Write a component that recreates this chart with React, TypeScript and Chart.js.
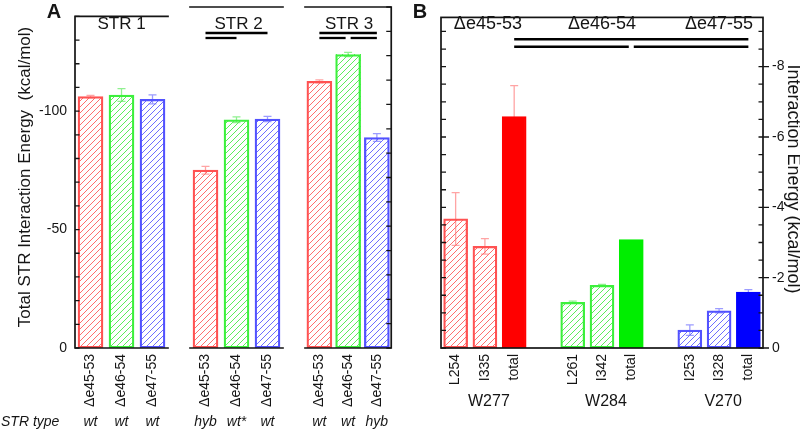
import React, { useEffect, useRef } from 'react';
import { Chart, registerables } from 'chart.js';

Chart.register(...registerables);

const FONT = '"Liberation Sans", Arial, Helvetica, sans-serif';
const INK = '#151515';
const W = 800;
const H = 430;
const B_LEFT = 400;

// ---------- Panel A data (total STR interaction energy, kcal/mol) ----------
const strNames = ['STR 1', 'STR 2', 'STR 3'];
const deletionLabels = ['Δe45-53', 'Δe46-54', 'Δe47-55'];
const str1Energy = [-106.1, -106.8, -105.0];
const str1Error = [0.5, 2.7, 1.9];
const str1Type = ['wt', 'wt', 'wt'];
const str2Energy = [-73.0, -93.7, -94.0];
const str2Error = [1.6, 1.2, 1.1];
const str2Type = ['hyb', 'wt*', 'wt'];
const str3Energy = [-109.5, -120.5, -86.4];
const str3Error = [0.6, 0.9, 1.6];
const str3Type = ['wt', 'wt', 'hyb'];
const totalTickLabels = [0, -50, -100];
// bar-index links drawn under the STR headers (row 1, row 2)
const strLinks = [
  [],
  [[[0, 2]], [[0, 1]]],
  [[[0, 2]], [[0, 1], [1, 2]]],
];

// ---------- Panel B data (residue interaction energy, kcal/mol) ----------
const deletionHeaders = ['Δe45-53', 'Δe46-54', 'Δe47-55'];
const residueGroups = ['W277', 'W284', 'V270'];
const w277Residues = ['L254', 'I335', 'total'];
const w277Energy = [-3.67, -2.89, -6.58];
const w277Error = [0.75, 0.22, 0.88];
const w284Residues = ['L261', 'I342', 'total'];
const w284Energy = [-1.3, -1.78, -3.08];
const w284Error = [0.03, 0.03, 0];
const v270Residues = ['I253', 'I328', 'total'];
const v270Energy = [-0.51, -1.06, -1.59];
const v270Error = [0.15, 0.06, 0.07];
const energyTickLabels = [0, -2, -4, -6, -8];
// links between group totals (row 1, row 2)
const deletionLinks = [[[0, 2]], [[0, 1], [1, 2]]];

// ---------- styles ----------
const HUES = ['red', 'green', 'blue'];
const EDGE: Record<string, string> = { red: 'rgb(255,82,82)', green: 'rgb(60,240,60)', blue: 'rgb(82,82,255)' };
const HATCH: Record<string, string> = { red: 'rgb(255,110,110)', green: 'rgb(90,238,90)', blue: 'rgb(110,110,255)' };
const SOLID: Record<string, string> = { red: 'rgb(255,0,0)', green: 'rgb(0,238,0)', blue: 'rgb(0,0,255)' };
const ERR: Record<string, string> = { red: 'rgba(255,90,90,0.55)', green: 'rgba(70,230,70,0.6)', blue: 'rgba(90,90,255,0.6)' };
const CLEAR = 'rgba(0,0,0,0)';

function font(size: number, style = '') {
  return `${style} ${size}px ${FONT}`.trim();
}

function stepValues(min: number, max: number, step: number) {
  const out: number[] = [];
  const n = Math.floor((max - min) / step + 1e-9);
  for (let k = 0; k <= n; k++) out.push(max - k * step);
  return out;
}

function drawHatches(chart: any, hatched: boolean[], colors: string[]) {
  const meta = chart.getDatasetMeta(0);
  const ctx = chart.ctx;
  meta.data.forEach((bar: any, i: number) => {
    if (!hatched[i]) return;
    const x = bar.x;
    const y = bar.y;
    const base = bar.base;
    const width = bar.width;
    if (!isFinite(y) || !isFinite(base)) return;
    const left = Math.round(x - width / 2);
    const right = Math.round(x + width / 2);
    const top = Math.round(Math.min(y, base));
    const bottom = Math.round(Math.max(y, base));
    ctx.save();
    ctx.globalAlpha = 1;
    ctx.globalCompositeOperation = 'source-over';
    ctx.fillStyle = colors[i];
    for (let py = top; py < bottom; py++) {
      for (let px = left; px < right; px++) {
        if ((px + py) % 6 === 0) ctx.fillRect(px, py, 1, 1);
      }
    }
    ctx.restore();
  });
}

function drawErrorBars(chart: any, errors: number[], colors: string[]) {
  const meta = chart.getDatasetMeta(0);
  const ys = chart.scales.y;
  const ctx = chart.ctx;
  const data = chart.data.datasets[0].data;
  meta.data.forEach((bar: any, i: number) => {
    const v = data[i];
    const e = errors[i];
    if (v == null || !e) return;
    const x = bar.x;
    const y1 = ys.getPixelForValue(v - e);
    const y2 = ys.getPixelForValue(v + e);
    ctx.save();
    ctx.strokeStyle = colors[i];
    ctx.lineWidth = 1.3;
    ctx.beginPath();
    ctx.moveTo(x, y1);
    ctx.lineTo(x, y2);
    ctx.moveTo(x - 4, y1);
    ctx.lineTo(x + 4, y1);
    ctx.moveTo(x - 4, y2);
    ctx.lineTo(x + 4, y2);
    ctx.stroke();
    ctx.restore();
  });
}

function drawLinks(ctx: any, rows: number[][][], px: (i: number) => number, y0: number, dy: number, lw: number) {
  ctx.save();
  ctx.strokeStyle = '#000';
  ctx.lineWidth = lw;
  rows.forEach((row, r) => {
    const y = y0 + r * dy;
    row.forEach(([a, b]) => {
      let x1 = px(a);
      let x2 = px(b);
      if (row.some(([, e]) => e === a)) x1 += 2.5;
      if (row.some(([s]) => s === b)) x2 -= 2.5;
      ctx.beginPath();
      ctx.moveTo(x1, y);
      ctx.lineTo(x2, y);
      ctx.stroke();
    });
  });
  ctx.restore();
}

const A_STEP = 10;
const B_STEP = 0.5;

function strChart(canvas: HTMLCanvasElement, k: number, energy: number[], error: number[], types: string[]) {
  const padLeft = [0, 190, 305][k];
  const padRight = [232, 117, 2][k];
  const hatchColors = HUES.map((h) => HATCH[h]);
  const errColors = HUES.map((h) => ERR[h]);
  const plugin = {
    id: 'strDeco' + k,
    beforeDatasetsDraw(chart: any) {
      drawErrorBars(chart, error, errColors);
      drawHatches(chart, [true, true, true], hatchColors);
    },
    afterDraw(chart: any) {
      const { ctx, chartArea: a } = chart;
      const xs = chart.scales.x;
      const ys = chart.scales.y;
      ctx.save();
      ctx.strokeStyle = INK;
      ctx.lineWidth = 1.7;
      ctx.lineCap = 'square';
      ctx.beginPath();
      if (k === 0) {
        ctx.moveTo(a.right, a.top);
        ctx.lineTo(a.left, a.top);
        ctx.lineTo(a.left, a.bottom);
        ctx.lineTo(a.right, a.bottom);
      } else if (k === 2) {
        ctx.moveTo(a.left, a.top);
        ctx.lineTo(a.right, a.top);
        ctx.lineTo(a.right, a.bottom);
        ctx.lineTo(a.left, a.bottom);
      } else {
        ctx.moveTo(a.left, a.top);
        ctx.lineTo(a.right, a.top);
        ctx.moveTo(a.left, a.bottom);
        ctx.lineTo(a.right, a.bottom);
      }
      ctx.stroke();
      ctx.lineCap = 'butt';
      ctx.lineWidth = 1.3;
      ctx.beginPath();
      stepValues(ys.min, ys.max, A_STEP).forEach((v) => {
        const y = ys.getPixelForValue(v);
        if (k === 0) {
          ctx.moveTo(a.left, y);
          ctx.lineTo(a.left + 4.5, y);
        }
        if (k === 2) {
          ctx.moveTo(a.right - 5, y);
          ctx.lineTo(a.right, y);
        }
      });
      ctx.stroke();

      ctx.fillStyle = INK;
      ctx.textAlign = 'center';
      ctx.textBaseline = 'middle';
      ctx.font = font(17);
      ctx.fillText(strNames[k], xs.getPixelForValue(1) + (k === 1 ? 2 : k === 2 ? 1 : 0), 24);
      drawLinks(ctx, strLinks[k] as number[][][], (i) => xs.getPixelForValue(i), 33, 5, 2.3);

      ctx.fillStyle = INK;
      ctx.textAlign = 'center';
      ctx.textBaseline = 'middle';
      ctx.font = font(14, 'italic');
      types.forEach((t, i) => ctx.fillText(t, xs.getPixelForValue(i), 422));

      if (k === 0) {
        ctx.textAlign = 'left';
        ctx.fillText('STR type', 1, 422);
        ctx.font = `bold 20px ${FONT}`;
        ctx.textAlign = 'center';
        ctx.fillText('A', 54, 12);
        ctx.save();
        ctx.translate(29.5, 177);
        ctx.rotate(-Math.PI / 2);
        ctx.font = font(17);
        ctx.textBaseline = 'alphabetic';
        ctx.fillText('Total STR Interaction Energy  (kcal/mol)', 0, 0);
        ctx.restore();
      }
      ctx.restore();
    },
  };
  return new Chart(canvas, {
    type: 'bar',
    data: {
      labels: deletionLabels,
      datasets: [
        {
          data: energy,
          backgroundColor: CLEAR,
          borderColor: HUES.map((h) => EDGE[h]),
          borderWidth: 1.6,
          borderSkipped: false,
          barThickness: 25,
        },
      ],
    },
    options: {
      responsive: false,
      animation: false,
      events: [],
      layout: { padding: { left: padLeft, right: padRight, top: 7, bottom: 0 } },
      plugins: { legend: { display: false }, tooltip: { enabled: false } },
      scales: {
        x: {
          type: 'category',
          grid: { display: false, drawTicks: false },
          border: { display: false },
          ticks: {
            minRotation: 90,
            maxRotation: 90,
            autoSkip: false,
            padding: 6,
            color: INK,
            font: { family: FONT, size: 14 },
          },
          afterFit: (s: any) => {
            s.height = 82;
          },
        },
        y: {
          type: 'linear',
          display: k === 0,
          min: -140,
          max: 0,
          reverse: true,
          grid: { display: false, drawTicks: false },
          border: { display: false },
          ticks: {
            stepSize: A_STEP,
            padding: 8,
            color: INK,
            font: { family: FONT, size: 14 },
            callback: (v: any) => (totalTickLabels.includes(Number(v)) ? String(v) : null),
          },
          afterFit: (s: any) => {
            s.width = k === 0 ? 75 : 0;
          },
        },
      },
    } as any,
    plugins: [plugin],
  });
}

function residueChart(canvas: HTMLCanvasElement) {
  const groups = [
    { residues: w277Residues, energy: w277Energy, error: w277Error },
    { residues: w284Residues, energy: w284Energy, error: w284Error },
    { residues: v270Residues, energy: v270Energy, error: v270Error },
  ];
  const labels: string[] = [];
  const values: (number | null)[] = [];
  const errors: number[] = [];
  const bg: string[] = [];
  const edge: string[] = [];
  const hatchColor: string[] = [];
  const hatched: boolean[] = [];
  const errColor: string[] = [];
  const groupIdx: number[][] = [];
  const totalIdx: number[] = [];
  groups.forEach((g, gi) => {
    if (gi > 0) {
      labels.push('');
      values.push(null);
      errors.push(0);
      bg.push(CLEAR);
      edge.push(CLEAR);
      hatchColor.push(CLEAR);
      hatched.push(false);
      errColor.push(CLEAR);
    }
    const hue = HUES[gi];
    const idx: number[] = [];
    g.residues.forEach((r, i) => {
      idx.push(labels.length);
      const solid = r === 'total';
      if (solid) totalIdx.push(labels.length);
      labels.push(r);
      values.push(g.energy[i]);
      errors.push(g.error[i]);
      bg.push(solid ? SOLID[hue] : CLEAR);
      edge.push(solid ? SOLID[hue] : EDGE[hue]);
      hatchColor.push(HATCH[hue]);
      hatched.push(!solid);
      errColor.push(ERR[hue]);
    });
    groupIdx.push(idx);
  });

  const plugin = {
    id: 'resDeco',
    beforeDatasetsDraw(chart: any) {
      drawErrorBars(chart, errors, errColor);
      drawHatches(chart, hatched, hatchColor);
    },
    afterDraw(chart: any) {
      const { ctx, chartArea: a } = chart;
      const xs = chart.scales.x;
      const ys = chart.scales.y;
      ctx.save();
      ctx.strokeStyle = INK;
      ctx.lineWidth = 1.7;
      ctx.strokeRect(a.left, a.top, a.right - a.left, a.bottom - a.top);
      ctx.lineWidth = 1.3;
      ctx.beginPath();
      stepValues(ys.min, ys.max, B_STEP).forEach((v) => {
        const y = ys.getPixelForValue(v);
        ctx.moveTo(a.left, y);
        ctx.lineTo(a.left + 5, y);
        const major = energyTickLabels.some((t) => Math.abs(t - v) < 1e-6);
        ctx.moveTo(a.right - 4.5, y);
        ctx.lineTo(a.right + (major ? 6 : 0), y);
      });
      ctx.stroke();

      ctx.fillStyle = INK;
      ctx.textAlign = 'center';
      ctx.textBaseline = 'middle';
      ctx.font = `bold 20px ${FONT}`;
      ctx.fillText('B', 420 - B_LEFT, 12);

      const groupCenter = (gi: number) => {
        const idx = groupIdx[gi];
        return (xs.getPixelForValue(idx[0]) + xs.getPixelForValue(idx[idx.length - 1])) / 2;
      };
      ctx.font = font(18);
      deletionHeaders.forEach((t, gi) => ctx.fillText(t, groupCenter(gi) + (gi === 0 ? 3 : 0), 24));
      drawLinks(ctx, deletionLinks as number[][][], (i) => xs.getPixelForValue(totalIdx[i]), 39.3, 7.4, 2.6);

      ctx.fillStyle = INK;
      ctx.font = font(16);
      ctx.textAlign = 'center';
      ctx.textBaseline = 'middle';
      residueGroups.forEach((t, gi) => ctx.fillText(t, groupCenter(gi) + 4, 402));

      ctx.save();
      ctx.translate(788 - B_LEFT, 179);
      ctx.rotate(Math.PI / 2);
      ctx.font = font(18);
      ctx.textAlign = 'center';
      ctx.textBaseline = 'alphabetic';
      ctx.fillText('Interaction Energy (kcal/mol)', 0, 0);
      ctx.restore();
      ctx.restore();
    },
  };

  return new Chart(canvas, {
    type: 'bar',
    data: {
      labels,
      datasets: [
        {
          data: values,
          backgroundColor: bg,
          borderColor: edge,
          borderWidth: 1.6,
          borderSkipped: false,
          barThickness: 24,
        },
      ],
    },
    options: {
      responsive: false,
      animation: false,
      events: [],
      layout: { padding: { left: 441 - B_LEFT, right: 0, top: 7, bottom: 0 } },
      plugins: { legend: { display: false }, tooltip: { enabled: false } },
      scales: {
        x: {
          type: 'category',
          grid: { display: false, drawTicks: false },
          border: { display: false },
          ticks: {
            minRotation: 90,
            maxRotation: 90,
            autoSkip: false,
            padding: 6,
            color: INK,
            font: { family: FONT, size: 14 },
          },
          afterFit: (s: any) => {
            s.height = 82;
          },
        },
        y: {
          type: 'linear',
          position: 'right',
          min: -9.4,
          max: 0,
          reverse: true,
          grid: { display: false, drawTicks: false },
          border: { display: false },
          ticks: {
            stepSize: B_STEP,
            padding: 9,
            color: INK,
            font: { family: FONT, size: 14 },
            callback: (v: any) =>
              energyTickLabels.some((t) => Math.abs(t - Number(v)) < 1e-6) ? String(v) : null,
          },
          afterFit: (s: any) => {
            s.width = 37;
          },
        },
      },
    } as any,
    plugins: [plugin],
  });
}

export default function App() {
  const a1 = useRef<HTMLCanvasElement>(null);
  const a2 = useRef<HTMLCanvasElement>(null);
  const a3 = useRef<HTMLCanvasElement>(null);
  const b = useRef<HTMLCanvasElement>(null);

  useEffect(() => {
    Chart.defaults.font.family = FONT;
    const charts: Chart[] = [];
    if (a1.current) charts.push(strChart(a1.current, 0, str1Energy, str1Error, str1Type));
    if (a2.current) charts.push(strChart(a2.current, 1, str2Energy, str2Error, str2Type));
    if (a3.current) charts.push(strChart(a3.current, 2, str3Energy, str3Error, str3Type));
    if (b.current) charts.push(residueChart(b.current));
    return () => charts.forEach((c) => c.destroy());
  }, []);

  const cs = (left: number, width: number): React.CSSProperties => ({
    position: 'absolute',
    left,
    top: 0,
    width,
    height: H,
  });

  return (
    <div
      style={{
        position: 'fixed',
        left: 0,
        top: 0,
        width: W,
        height: H,
        background: '#fff',
        overflow: 'hidden',
      }}
    >
      <canvas ref={a1} width={400} height={H} style={cs(0, 400)} />
      <canvas ref={a2} width={400} height={H} style={cs(0, 400)} />
      <canvas ref={a3} width={400} height={H} style={cs(0, 400)} />
      <canvas ref={b} width={W - B_LEFT} height={H} style={cs(B_LEFT, W - B_LEFT)} />
    </div>
  );
}
